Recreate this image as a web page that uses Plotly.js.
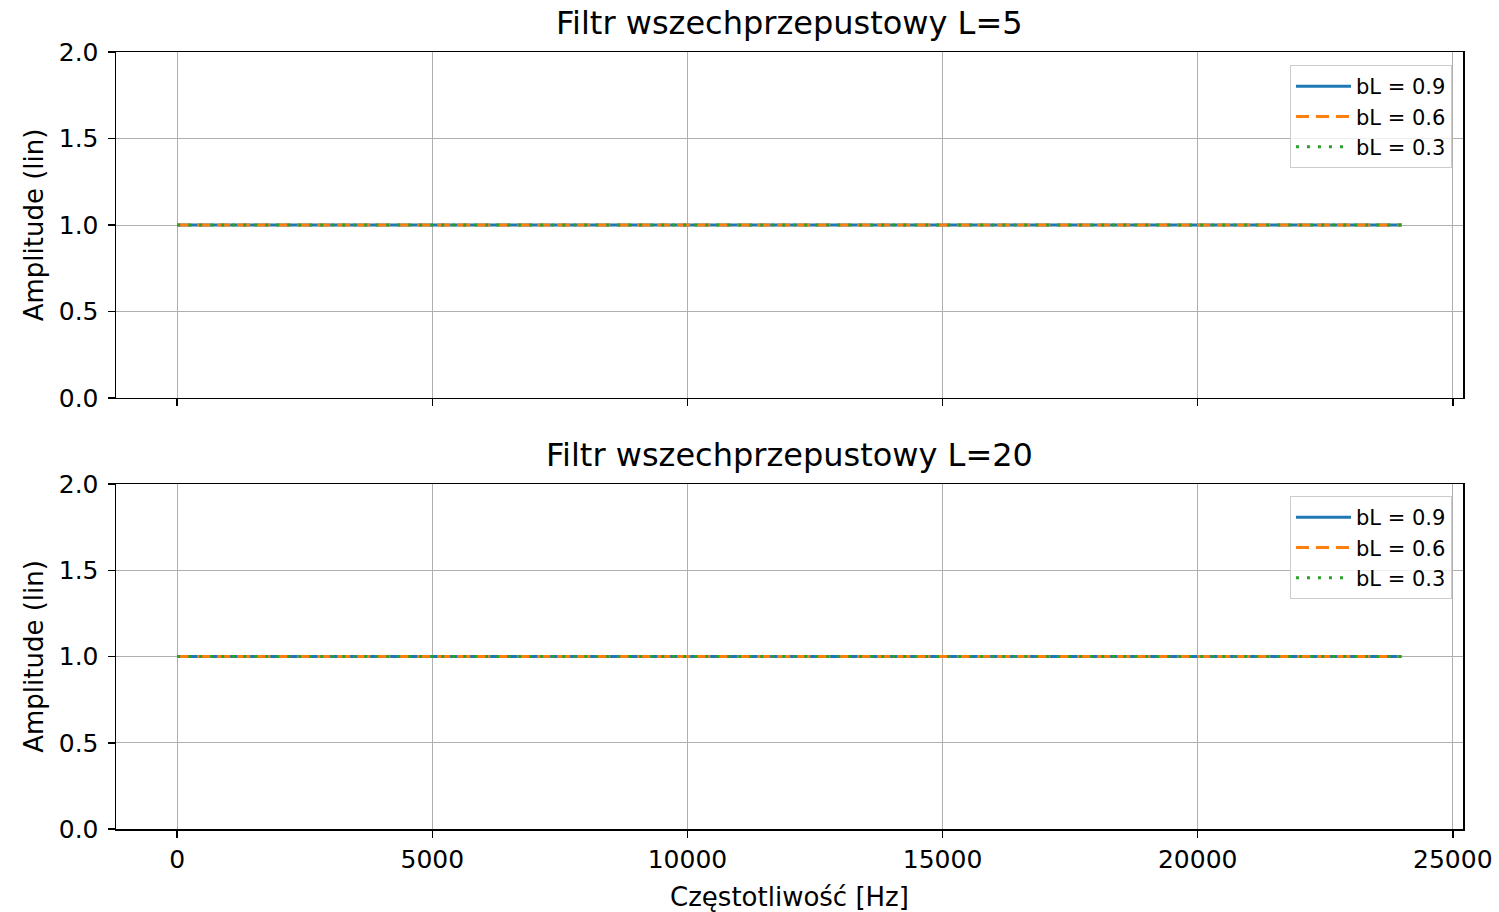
<!DOCTYPE html>
<html>
<head>
<meta charset="utf-8">
<script src="https://cdn.plot.ly/plotly-3.0.1.min.js"></script>
<style>html,body{margin:0;padding:0;background:#fff;}#chart{width:1499px;height:912px;}</style>
</head>
<body>
<div id="chart"></div>
<script>
// Data
const freqHz = [0, 4000, 8000, 12000, 16000, 20000, 24000];
const ampL5_b09 = [1, 1, 1, 1, 1, 1, 1];
const ampL5_b06 = [1, 1, 1, 1, 1, 1, 1];
const ampL5_b03 = [1, 1, 1, 1, 1, 1, 1];
const ampL20_b09 = [1, 1, 1, 1, 1, 1, 1];
const ampL20_b06 = [1, 1, 1, 1, 1, 1, 1];
const ampL20_b03 = [1, 1, 1, 1, 1, 1, 1];
const seriesNames = ['bL = 0.9', 'bL = 0.6', 'bL = 0.3'];
const subplotTitles = ['Filtr wszechprzepustowy L=5', 'Filtr wszechprzepustowy L=20'];
const xTicks = [0, 5000, 10000, 15000, 20000, 25000];
const xTickLabels = ['0', '5000', '10000', '15000', '20000', '25000'];
const yTicks = [0, 0.5, 1.0, 1.5, 2.0];
const yTickLabels = ['0.0', '0.5', '1.0', '1.5', '2.0'];

const colors = ['#1f77b4', '#ff7f0e', '#2ca02c'];
const dashes = ['solid', '13px,7px', '3px,8px'];
const font = 'DejaVu Sans, sans-serif';

function mk(y, i, xa, ya, leg) {
  return {x: freqHz, y: y, name: seriesNames[i], type: 'scatter', mode: 'lines',
    xaxis: xa, yaxis: ya, legend: leg,
    line: {color: colors[i], width: 3, dash: dashes[i]}};
}
const traces = [
  mk(ampL5_b09, 0, 'x', 'y', 'legend'),
  mk(ampL5_b06, 1, 'x', 'y', 'legend'),
  mk(ampL5_b03, 2, 'x', 'y', 'legend'),
  mk(ampL20_b09, 0, 'x2', 'y2', 'legend2'),
  mk(ampL20_b06, 1, 'x2', 'y2', 'legend2'),
  mk(ampL20_b03, 2, 'x2', 'y2', 'legend2')
];

const xBase = {range: [-1200, 25200], tickvals: xTicks, ticktext: xTickLabels, showgrid: true, gridcolor: '#b0b0b0', gridwidth: 1,
  zeroline: false, showline: true, linecolor: '#000', linewidth: 1.5, mirror: true,
  ticks: 'outside', ticklen: 7, tickwidth: 1.5, tickcolor: '#000',
  tickfont: {family: font, size: 25, color: '#000'}};
const yBase = {range: [0, 2], tickvals: yTicks, ticktext: yTickLabels, showgrid: true, gridcolor: '#b0b0b0', gridwidth: 1,
  zeroline: false, showline: true, linecolor: '#000', linewidth: 1.5, mirror: true,
  ticks: 'outside', ticklen: 7, tickwidth: 1.5, tickcolor: '#000', ticklabelstandoff: 4,
  tickfont: {family: font, size: 25, color: '#000'},
  title: {text: 'Amplitude (lin)', font: {family: font, size: 26, color: '#000'}, standoff: 7}};

const legBase = {xanchor: 'right', yanchor: 'top', bgcolor: 'rgba(255,255,255,0.8)',
  bordercolor: '#cccccc', borderwidth: 1, font: {family: font, size: 21, color: '#000'},
  tracegroupgap: 0, itemwidth: 55};

const layout = {
  width: 1499, height: 912,
  margin: {l: 116, r: 36, t: 52, b: 83},
  paper_bgcolor: '#fff', plot_bgcolor: '#fff',
  showlegend: true,
  xaxis: Object.assign({}, xBase, {domain: [0, 1], anchor: 'y', showticklabels: false}),
  yaxis: Object.assign({}, yBase, {domain: [0.5547, 1], anchor: 'x'}),
  xaxis2: Object.assign({}, xBase, {domain: [0, 1], anchor: 'y2',
    title: {text: 'Częstotliwość [Hz]', font: {family: font, size: 26, color: '#000'}, standoff: 16}}),
  yaxis2: Object.assign({}, yBase, {domain: [0, 0.444], anchor: 'x2'}),
  legend: Object.assign({}, legBase, {x: 0.9918, y: 0.9833}),
  legend2: Object.assign({}, legBase, {x: 0.9918, y: 0.4286}),
  annotations: [
    {text: subplotTitles[0], xref: 'paper', yref: 'paper', x: 0.5, y: 1, yshift: 8, xanchor: 'center', yanchor: 'bottom',
      showarrow: false, font: {family: font, size: 32, color: '#000'}},
    {text: subplotTitles[1], xref: 'paper', yref: 'paper', x: 0.5, y: 0.444, yshift: 8, xanchor: 'center', yanchor: 'bottom',
      showarrow: false, font: {family: font, size: 32, color: '#000'}}
  ]
};
Plotly.newPlot('chart', traces, layout, {displayModeBar: false, staticPlot: true});
</script>
</body>
</html>
